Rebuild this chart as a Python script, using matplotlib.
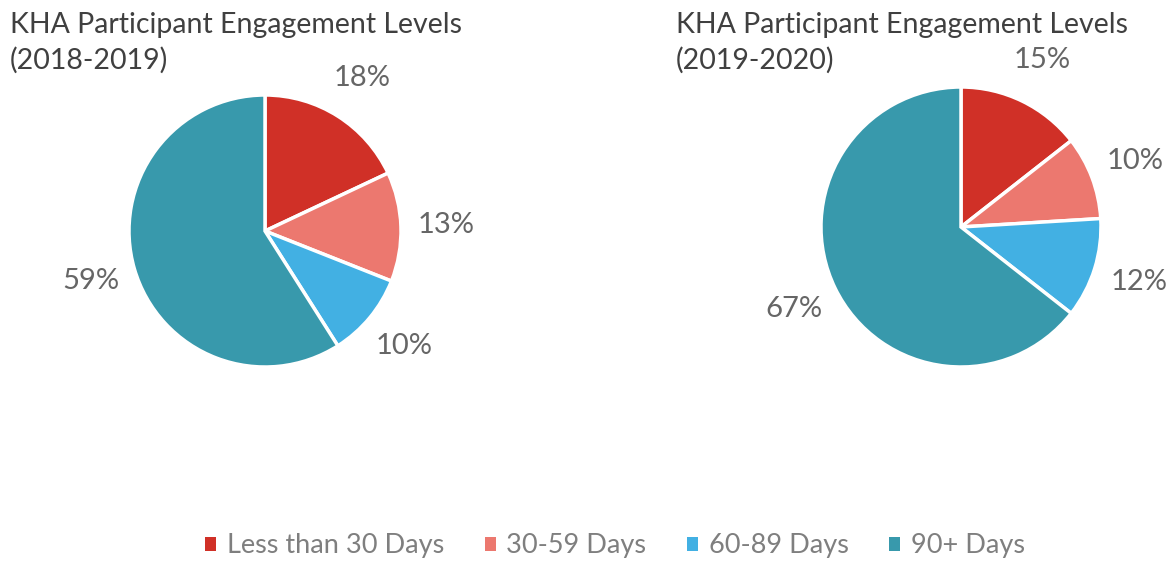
import matplotlib.pyplot as plt
from matplotlib.patches import Patch

categories = ['Less than 30 Days', '30-59 Days', '60-89 Days', '90+ Days']
colors = ['#D03027', '#EC786F', '#42B0E3', '#3899AC']

values_2018 = [18, 13, 10, 59]
values_2019 = [15, 10, 12, 67]

title_main = 'KHA Participant Engagement Levels'
title_years = ['(2018-2019)', '(2019-2020)']

plt.rcParams['font.family'] = ['Lato', 'DejaVu Sans']

fig = plt.figure(figsize=(11.74, 5.61), dpi=100)


def draw_pie(rect, values):
    ax = fig.add_axes(rect)
    labels = ['%d%%' % v for v in values]
    wedges, texts = ax.pie(values, labels=labels, colors=colors, startangle=90,
                           counterclock=False, labeldistance=1.33,
                           wedgeprops=dict(edgecolor='white', linewidth=2.5),
                           textprops=dict(color='#666666', fontsize=21))
    for t in texts:
        t.set_ha('center')
        t.set_va('center')
    ax.set_xlim(-1, 1)
    ax.set_ylim(-1, 1)
    ax.set_aspect('equal')
    return ax


# left pie: centre ~ (265, 231) px, radius ~136 px
w1, h1 = 272 / 1174, 272 / 561
draw_pie([265 / 1174 - w1 / 2, (561 - 231) / 561 - h1 / 2, w1, h1], values_2018)

# right pie: centre ~ (961, 227) px, radius ~140 px
w2, h2 = 280 / 1174, 280 / 561
draw_pie([961 / 1174 - w2 / 2, (561 - 227) / 561 - h2 / 2, w2, h2], values_2019)

# titles, one text per line
for x, years in zip([10, 676], title_years):
    fig.text(x / 1174, 1 - 25 / 561, title_main, ha='left', va='center',
             fontsize=20.5, color='#404040')
    fig.text(x / 1174, 1 - 60 / 561, years, ha='left', va='center',
             fontsize=20.5, color='#404040')

handles = [Patch(facecolor=c, edgecolor='none') for c in colors]
leg = fig.legend(handles, categories, loc='center', bbox_to_anchor=(615 / 1174, 1 - 546 / 561),
                 ncol=4, frameon=False, fontsize=19.5, handlelength=0.4, handleheight=0.4,
                 handletextpad=0.4, columnspacing=1.5)
for t in leg.get_texts():
    t.set_color('#7F7F7F')

fig.savefig('out.png', dpi=100)
